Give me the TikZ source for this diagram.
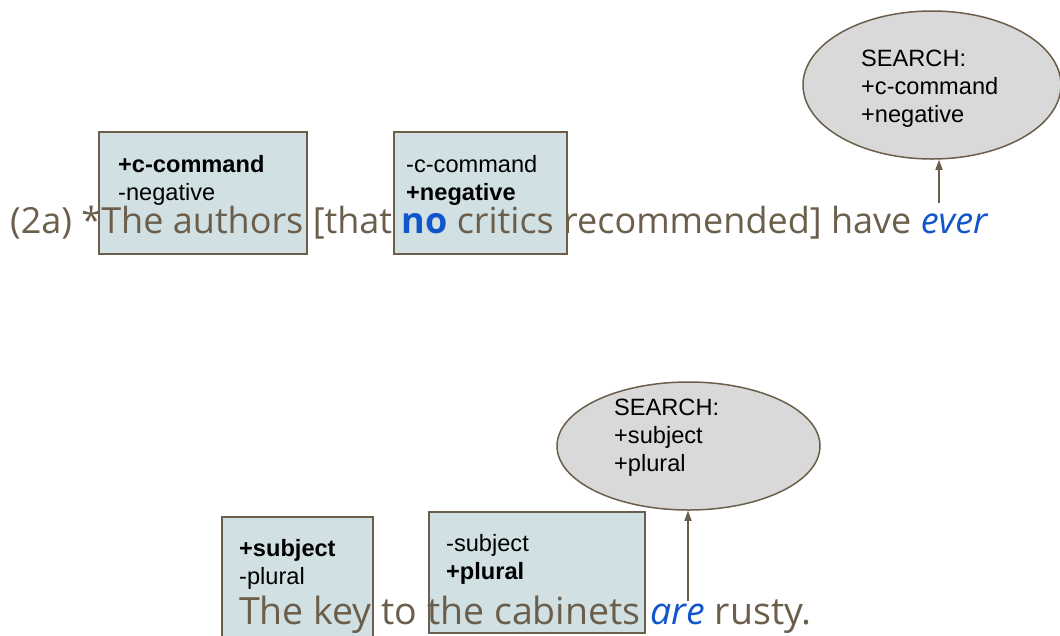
\documentclass[tikz,border=0pt]{standalone}
\usepackage{fontspec}
\setmainfont{Liberation Sans}
\newfontfamily\sentfont{Open Sans}
\usetikzlibrary{arrows.meta, positioning, shapes, calc}
\definecolor{umber}{RGB}{107,94,75}
\definecolor{featbg}{RGB}{208,224,227}
\definecolor{searchbg}{RGB}{217,217,217}
\definecolor{hilite}{RGB}{17,85,204}

\begin{document}
\begin{tikzpicture}[x=1pt,y=-1pt,
    fbox/.style 2 args={draw=umber,line width=2pt,fill=featbg,inner sep=0pt,anchor=north west,minimum width=#1,minimum height=#2},
    feat/.style={font=\fontsize{23.6}{28}\selectfont,align=left,inner sep=0pt,anchor=base west},
    sent/.style={font=\sentfont\fontsize{#1}{40}\selectfont,text=umber,inner sep=0pt,anchor=base west},
    search/.style={ellipse,draw=umber,line width=1.5pt,fill=searchbg,inner sep=0pt},
    link/.style={umber,line width=1.5pt,-{Triangle[length=10pt,width=7pt]}}]
    \useasboundingbox (0,0) rectangle (1060,635);
    % (2a) negative polarity
    \node[fbox={208}{122}] (B1) at (98,131) {};
    \node[fbox={173}{122}] (B2) at (393,131) {};
    \node[feat] (F1) at ([shift={(20,69)}]B1.north west) {\textbf{+c-command}\\-negative};
    \node[feat] (F2) at ([shift={(13,69)}]B2.north west) {-c-command\\\textbf{+negative}};
    \node[sent=36] (S1) at (10,233) {(2a) *The authors [that \textcolor{hilite}{\bfseries no} critics recommended] have \textcolor{hilite}{\itshape ever}};
    \node[search,minimum width=258,minimum height=148] (E1) at (932,85) {};
    \node[feat] (Q1) at ([shift={(-71,37)}]E1.center) {SEARCH:\\+c-command\\+negative};
    \coordinate (ever) at (939,203);
    \draw[link] (ever) -- (ever |- E1.south);
    % agreement
    \node[fbox={151}{126}] (B3) at (221,516) {};
    \node[fbox={216}{121}] (B4) at (428,511) {};
    \node[feat] (F3) at ([shift={(18,68)}]B3.north west) {\textbf{+subject}\\-plural};
    \node[feat] (F4) at ([shift={(18,68)}]B4.north west) {-subject\\\textbf{+plural}};
    \node[sent=37.5] (S2) at (239,624) {The key to the cabinets \textcolor{hilite}{\itshape are} rusty.};
    \node[search,minimum width=263,minimum height=128] (E2) at (688.5,446) {};
    \node[feat] (Q2) at ([shift={(-74.5,25)}]E2.center) {SEARCH:\\+subject\\+plural};
    \coordinate (are) at (688,601);
    \draw[link] (are) -- (are |- E2.south);
\end{tikzpicture}
\end{document}
